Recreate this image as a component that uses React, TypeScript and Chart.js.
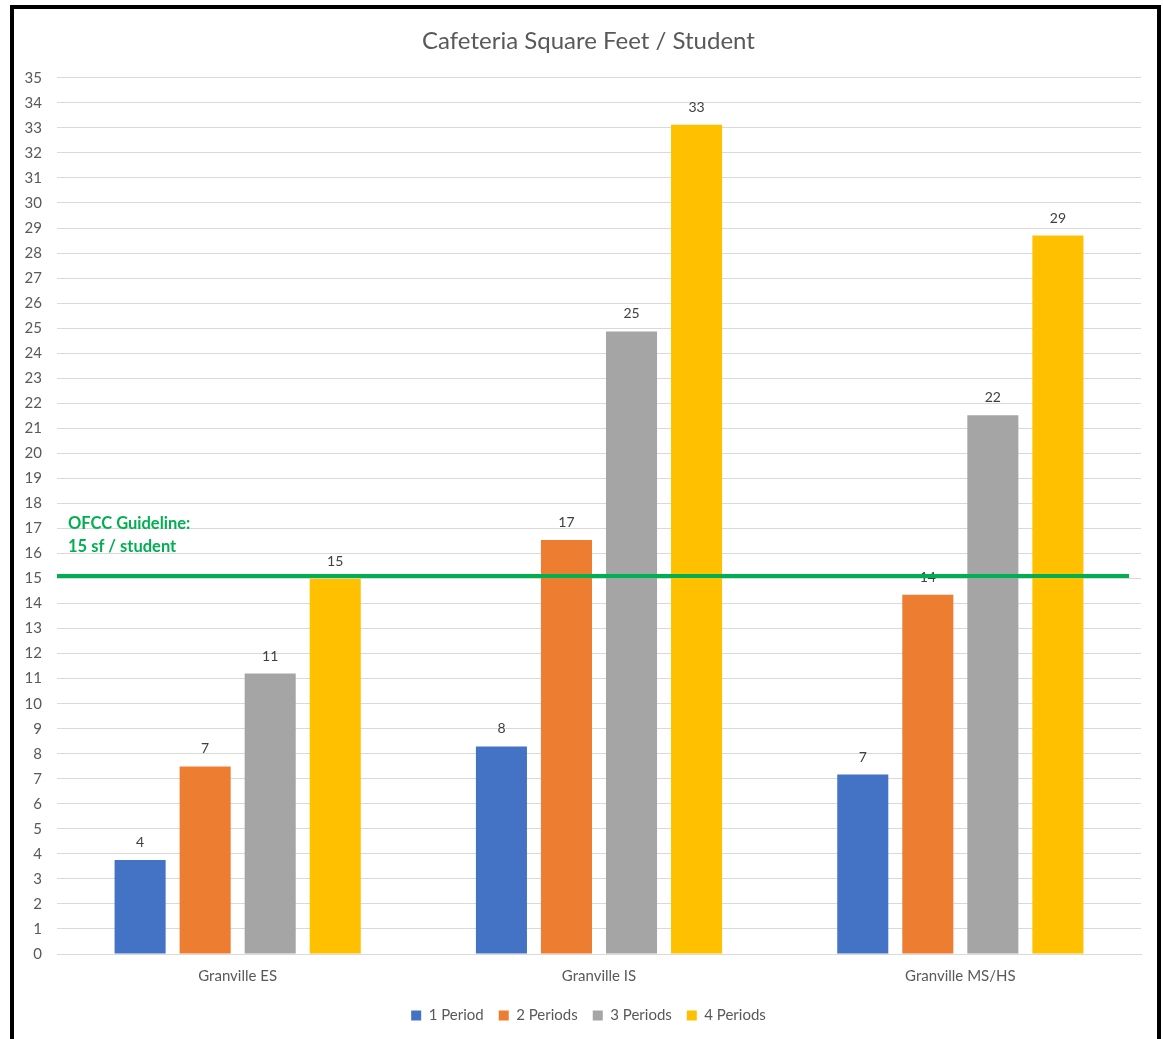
import React, { useEffect, useRef } from "react";
import { Chart, registerables } from "chart.js";

Chart.register(...registerables);

const CATEGORIES = ["Granville ES", "Granville IS", "Granville MS/HS"];
const SERIES_NAMES = ["1 Period", "2 Periods", "3 Periods", "4 Periods"];
const ONE_PERIOD = [3.75, 8.29, 7.17];
const TWO_PERIODS = [7.49, 16.54, 14.35];
const THREE_PERIODS = [11.2, 24.87, 21.52];
const FOUR_PERIODS = [14.99, 33.12, 28.7];
const COLORS = ["#4472C4", "#ED7D31", "#A5A5A5", "#FFC000"];
const GUIDELINE = 15.1;
const GUIDELINE_LINES = ["OFCC Guideline:", "15 sf / student"];
const TITLE = "Cafeteria Square Feet / Student";
const Y_MAX = 35;

const FONT = "Lato, 'Open Sans', sans-serif";

const labelPlugin = {
  id: "valueLabels",
  afterDatasetsDraw(chart: any) {
    const ctx = chart.ctx;
    ctx.save();
    ctx.font = `14px ${FONT}`;
    ctx.fillStyle = "#404040";
    ctx.textAlign = "center";
    ctx.textBaseline = "alphabetic";
    chart.data.datasets.forEach((ds: any, i: number) => {
      const meta = chart.getDatasetMeta(i);
      meta.data.forEach((bar: any, j: number) => {
        ctx.fillText(String(Math.round(ds.data[j])), bar.x, bar.y - 13);
      });
    });
    ctx.restore();
  },
};

const guidelinePlugin = {
  id: "guideline",
  afterDraw(chart: any) {
    const ctx = chart.ctx;
    const y = chart.scales.y.getPixelForValue(GUIDELINE);
    const { left, right } = chart.chartArea;
    ctx.save();
    ctx.strokeStyle = "#00B050";
    ctx.lineWidth = 4;
    ctx.beginPath();
    ctx.moveTo(left, y);
    ctx.lineTo(right - 12, y);
    ctx.stroke();
    ctx.fillStyle = "#00B050";
    ctx.font = `bold 16.5px ${FONT}`;
    ctx.textAlign = "left";
    ctx.textBaseline = "middle";
    ctx.fillText(GUIDELINE_LINES[0], left + 11, y - 52);
    ctx.fillText(GUIDELINE_LINES[1], left + 11, y - 29);
    ctx.restore();
  },
};

export default function App() {
  const ref = useRef<HTMLCanvasElement>(null);
  useEffect(() => {
    document.body.style.margin = "0";
    document.documentElement.style.overflow = "hidden";
    const seriesValues = [ONE_PERIOD, TWO_PERIODS, THREE_PERIODS, FOUR_PERIODS];
    const chart = new Chart(ref.current!, {
      type: "bar",
      data: {
        labels: CATEGORIES,
        datasets: SERIES_NAMES.map((name, i) => ({
          label: name,
          data: seriesValues[i],
          backgroundColor: COLORS[i],
          borderWidth: 0,
          categoryPercentage: 0.72,
          barPercentage: 0.785,
        })),
      },
      options: {
        animation: false,
        responsive: false,
        devicePixelRatio: 1,
        layout: { padding: { left: 20, right: 6, top: 0, bottom: 6 } },
        plugins: {
          title: {
            display: true,
            text: TITLE,
            color: "#595959",
            font: { family: FONT, size: 24, weight: "normal" },
            padding: { top: 27, bottom: 22 },
          },
          legend: {
            position: "bottom",
            labels: {
              boxWidth: 10,
              boxHeight: 10,
              color: "#595959",
              font: { family: FONT, size: 15 },
              padding: 15,
            },
          },
          tooltip: { enabled: false },
        },
        scales: {
          x: {
            afterFit(scale: any) {
              scale.height += 3;
            },
            grid: { display: false },
            border: { display: true, color: "#D9D9D9", width: 1 },
            ticks: { color: "#595959", font: { family: FONT, size: 15 }, padding: 5 },
          },
          y: {
            min: 0,
            max: Y_MAX,
            afterFit(scale: any) {
              scale.width = 37;
            },
            grid: { color: "#D9D9D9", drawTicks: false },
            border: { display: false },
            ticks: {
              stepSize: 1,
              color: "#595959",
              font: { family: FONT, size: 15 },
              padding: 15,
            },
          },
          yRight: {
            type: "linear",
            position: "right",
            display: true,
            min: 0,
            max: Y_MAX,
            afterFit(scale: any) {
              scale.width = 16;
            },
            grid: { display: false, drawTicks: false },
            border: { display: false },
            ticks: { display: false },
          },
        },
      },
      plugins: [labelPlugin, guidelinePlugin],
    });
    return () => chart.destroy();
  }, []);
  return (
    <div style={{ position: "relative", width: 1163, height: 1039, background: "#fff", overflow: "hidden" }}>
      <canvas ref={ref} width={1163} height={1039} style={{ position: "absolute", left: 0, top: 0 }} />
      <div
        style={{
          position: "absolute",
          left: 10,
          top: 5,
          width: 1143,
          height: 1100,
          border: "4px solid #000",
          boxSizing: "content-box",
          pointerEvents: "none",
        }}
      />
    </div>
  );
}
